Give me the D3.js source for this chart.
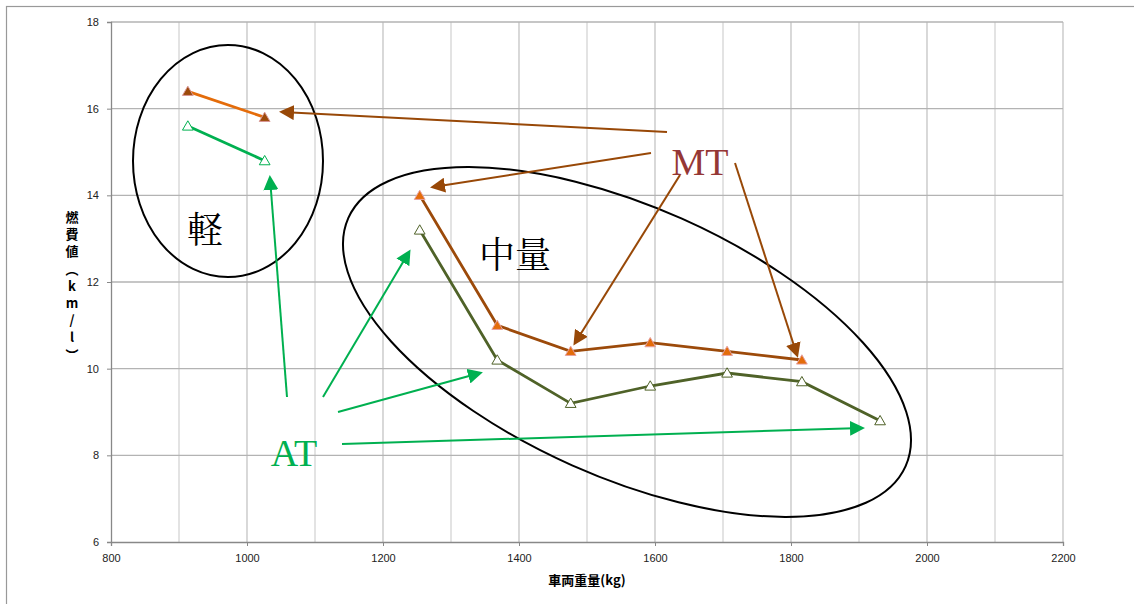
<!DOCTYPE html>
<html><head><meta charset="utf-8">
<script src="https://cdn.jsdelivr.net/npm/d3@7"></script>
<style>body{margin:0;background:#fff}svg{display:block}</style>
</head><body>
<svg id="c" width="1134" height="604"></svg>
<script>
// ---- data ----
const lightMT_x = [913, 1026];
const lightMT_y = [16.4, 15.8];
const lightAT_x = [913, 1026];
const lightAT_y = [15.6, 14.8];
const midMT_x = [1254, 1368, 1476, 1593, 1706, 1816];
const midMT_y = [14.0, 11.0, 10.4, 10.6, 10.4, 10.2];
const midAT_x = [1254, 1368, 1476, 1593, 1706, 1816, 1931];
const midAT_y = [13.2, 10.2, 9.2, 9.6, 9.9, 9.7, 8.8];
const xTicks = [800, 1000, 1200, 1400, 1600, 1800, 2000, 2200];
const yTicks = [6, 8, 10, 12, 14, 16, 18];
const xGrid = [900, 1000, 1100, 1200, 1300, 1400, 1500, 1600, 1700, 1800, 1900, 2000, 2100, 2200];
const yLabelChars = ["燃", "費", "値", "︵", "k", "m", "/", "l", "︶"];
const xLabel = "車両重量(kg)";

const svg = d3.select("#c");
svg.append("rect").attr("x", 6.5).attr("y", 6.5).attr("width", 1140).attr("height", 620)
  .attr("fill", "#fff").attr("stroke", "#999").attr("stroke-width", 1.2);

const x = d3.scaleLinear().domain([800, 2200]).range([111, 1063]);
const y = d3.scaleLinear().domain([6, 18]).range([542, 22]);

// grid
svg.append("g").selectAll("line").data(xGrid).join("line")
  .attr("x1", d => x(d)).attr("x2", d => x(d)).attr("y1", y(18)).attr("y2", y(6))
  .attr("stroke", (d, i) => i % 2 ? "#c4c4c4" : "#d4d4d4").attr("stroke-width", 1.3);
svg.append("g").selectAll("line").data(yTicks.slice(1)).join("line")
  .attr("x1", x(800)).attr("x2", x(2200)).attr("y1", d => y(d)).attr("y2", d => y(d))
  .attr("stroke", "#b3b3b3").attr("stroke-width", 1.3);

// axes
const xa = svg.append("g").attr("transform", `translate(0,${y(6)})`)
  .call(d3.axisBottom(x).tickValues(xTicks).tickFormat(d3.format("d")).tickSize(4).tickPadding(8));
const ya = svg.append("g").attr("transform", `translate(${x(800)},0)`)
  .call(d3.axisLeft(y).tickValues(yTicks).tickFormat(d3.format("d")).tickSize(4).tickPadding(8));
[xa, ya].forEach(a => {
  a.select(".domain").attr("stroke", "#888").attr("stroke-width", 1.3);
  a.selectAll(".tick line").attr("stroke", "#888");
  a.selectAll("text").attr("font-family", "Liberation Sans, Arial, sans-serif").attr("font-size", 11).attr("fill", "#222");
});

// x label
svg.append("text").attr("x", (x(800) + x(2200)) / 2).attr("y", 585).attr("text-anchor", "middle")
  .attr("font-family", "Noto Sans CJK JP, sans-serif").attr("font-weight", "bold").attr("font-size", 13)
  .text(xLabel);
// y label stacked
svg.append("g").selectAll("text").data(yLabelChars).join("text")
  .attr("x", 72).attr("y", (d, i) => 222 + i * 17.2).attr("text-anchor", "middle")
  .attr("font-family", "Noto Sans CJK JP, sans-serif").attr("font-weight", "bold").attr("font-size", 13)
  .text(d => d);

// series
const series = [
  {xs: lightMT_x, ys: lightMT_y, line: "#E46C0A", fill: "#9C4A0A", stroke: "#d99694"},
  {xs: lightAT_x, ys: lightAT_y, line: "#00B050", fill: "#fff", stroke: "#00B050"},
  {xs: midMT_x, ys: midMT_y, line: "#9C4A0A", fill: "#E46C0A", stroke: "#e6a0a0"},
  {xs: midAT_x, ys: midAT_y, line: "#4F6228", fill: "#fff", stroke: "#4F6228"}
];
const line = d3.line().x(d => x(d[0])).y(d => y(d[1]));
const tri = d3.symbol().type(d3.symbolTriangle).size(50);
series.forEach(s => {
  const pts = s.xs.map((v, i) => [v, s.ys[i]]);
  svg.append("path").attr("d", line(pts)).attr("fill", "none").attr("stroke", s.line).attr("stroke-width", 2.8);
  svg.append("g").selectAll("path").data(pts).join("path")
    .attr("d", tri).attr("transform", d => `translate(${x(d[0])},${y(d[1]) + 1})`)
    .attr("fill", s.fill).attr("stroke", s.stroke).attr("stroke-width", 1);
});

// annotations: ellipses
svg.append("ellipse").attr("cx", 228).attr("cy", 161).attr("rx", 95).attr("ry", 116)
  .attr("fill", "none").attr("stroke", "#000").attr("stroke-width", 2);
svg.append("ellipse").attr("cx", 0).attr("cy", 0).attr("rx", 305).attr("ry", 135)
  .attr("transform", "translate(627,342) rotate(24)")
  .attr("fill", "none").attr("stroke", "#000").attr("stroke-width", 2);

// arrows
const defs = svg.append("defs");
function marker(id, color) {
  defs.append("marker").attr("id", id).attr("viewBox", "0 0 10 10").attr("refX", 8).attr("refY", 5)
    .attr("markerWidth", 7.5).attr("markerHeight", 7.5).attr("markerUnits", "strokeWidth").attr("orient", "auto")
    .append("path").attr("d", "M0,0 L10,5 L0,10 z").attr("fill", color);
}
marker("mb", "#984807");
marker("mg", "#00B050");
const mtArrows = [[667, 132, 282, 112], [651, 153, 433, 187], [680, 175, 575, 343], [735, 163, 797, 355]];
const atArrows = [[287, 397, 270, 178], [323, 397, 409, 252], [338, 412, 480, 373], [342, 444, 862, 428]];
mtArrows.forEach(a => svg.append("line").attr("x1", a[0]).attr("y1", a[1]).attr("x2", a[2]).attr("y2", a[3])
  .attr("stroke", "#984807").attr("stroke-width", 2).attr("marker-end", "url(#mb)"));
atArrows.forEach(a => svg.append("line").attr("x1", a[0]).attr("y1", a[1]).attr("x2", a[2]).attr("y2", a[3])
  .attr("stroke", "#00B050").attr("stroke-width", 2).attr("marker-end", "url(#mg)"));

// labels
const serif = "Noto Serif CJK JP, Liberation Serif, serif";
svg.append("text").attr("x", 205).attr("y", 243).attr("text-anchor", "middle").attr("font-family", serif)
  .attr("font-size", 36).attr("fill", "#000").text("軽");
svg.append("text").attr("x", 515).attr("y", 268).attr("text-anchor", "middle").attr("font-family", serif)
  .attr("font-size", 36).attr("fill", "#000").text("中量");
svg.append("text").attr("x", 700).attr("y", 175).attr("text-anchor", "middle").attr("font-family", "Liberation Serif, serif")
  .attr("font-size", 38).attr("fill", "#953735").text("MT");
svg.append("text").attr("x", 294).attr("y", 466).attr("text-anchor", "middle").attr("font-family", "Liberation Serif, serif")
  .attr("font-size", 38).attr("fill", "#00B050").text("AT");
</script>
</body></html>
